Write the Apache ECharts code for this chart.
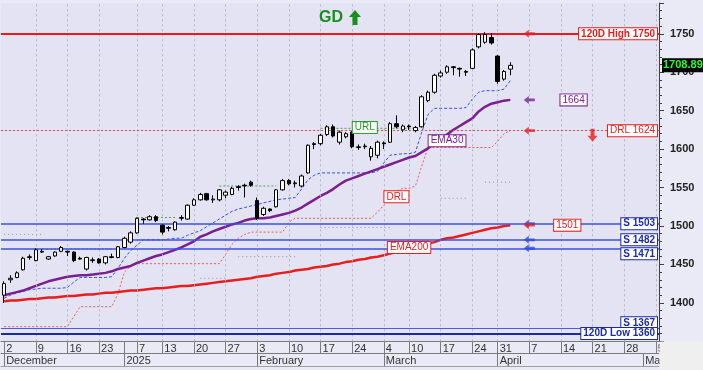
<!DOCTYPE html>
<html><head><meta charset="utf-8">
<script src="https://cdn.jsdelivr.net/npm/echarts@6/dist/echarts.min.js"></script>
<style>html,body{margin:0;padding:0;background:#EAEAF6}#c{width:703px;height:370px}</style>
</head><body><div id="c"></div>
<script>
const dates = [
'2024-12-02','2024-12-03','2024-12-04','2024-12-05','2024-12-06',
'2024-12-09','2024-12-10','2024-12-11','2024-12-12','2024-12-13',
'2024-12-16','2024-12-17','2024-12-18','2024-12-19','2024-12-20',
'2024-12-23','2024-12-24','2024-12-26','2024-12-27','2024-12-30',
'2025-01-06','2025-01-07','2025-01-08','2025-01-09','2025-01-10',
'2025-01-13','2025-01-14','2025-01-15','2025-01-16','2025-01-17',
'2025-01-20','2025-01-21','2025-01-22','2025-01-23','2025-01-24',
'2025-01-27','2025-01-28','2025-01-29','2025-01-30','2025-01-31',
'2025-02-03','2025-02-04','2025-02-05','2025-02-06','2025-02-07',
'2025-02-10','2025-02-11','2025-02-12','2025-02-13','2025-02-14',
'2025-02-17','2025-02-18','2025-02-19','2025-02-20','2025-02-21',
'2025-02-24','2025-02-25','2025-02-27','2025-02-28','2025-03-03',
'2025-03-04','2025-03-05','2025-03-06','2025-03-07',
'2025-03-10','2025-03-11','2025-03-12','2025-03-13','2025-03-14',
'2025-03-17','2025-03-18','2025-03-19','2025-03-20','2025-03-21',
'2025-03-24','2025-03-25','2025-03-26','2025-03-27',
'2025-03-31','2025-04-01','2025-04-02','2025-04-03','2025-04-04',
'2025-04-07','2025-04-08','2025-04-09','2025-04-10','2025-04-11',
'2025-04-14','2025-04-15','2025-04-16','2025-04-17','2025-04-18',
'2025-04-21','2025-04-22','2025-04-23','2025-04-24','2025-04-25',
'2025-04-28','2025-04-29','2025-04-30','2025-05-01','2025-05-02',
'2025-05-05'];

const open = [1410,1430,1433,1443,1459,1455,1466,1457,1461,1467,
1467,1466,1458,1444,1455,1457,1452,1459,1459,1472,
1479,1491,1509,1508,1512,1501,1498,1495,1510,1509,
1527,1534,1542,1534,1534,1540,1541,1551,1553,1557,
1533,1515,1522,1525,1547,1559,1555,1552,1569,1607,
1607,1619,1629,1609,1616,1622,1602,1603,1590,1592,
1608,1609,1633,1625,1630,1624,1629,1663,1674,1695,
1700,1707,1705,1701,1705,1733,1739,1745,1721,1691,
1704];
const close = [1425,1432,1439,1458,1460,1469,1467,1460,1466,1472,
1466,1455,1457,1459,1456,1452,1460,1460,1473,1484,
1491,1510,1508,1512,1507,1492,1497,1505,1511,1527,
1534,1541,1534,1535,1547,1544,1549,1550,1552,1553,
1510,1523,1520,1547,1559,1555,1556,1565,1605,1606,
1618,1629,1617,1622,1620,1603,1603,1604,1601,1609,
1607,1633,1629,1630,1629,1628,1668,1674,1696,1699,
1707,1706,1704,1700,1729,1749,1749,1738,1688,1701,
1708.89];
const high = [1428,1436,1441,1460,1463,1471,1470,1461,1467,1474,
1468,1467,1460,1460,1459,1458,1461,1464,1474,1486,
1493,1511,1510,1514,1514,1502,1500,1506,1514,1528,
1536,1543,1543,1540,1548,1546,1551,1553,1555,1559,
1537,1525,1523,1548,1561,1561,1559,1567,1606,1609,
1620,1631,1632,1624,1622,1624,1606,1607,1604,1611,
1610,1635,1644,1632,1632,1630,1670,1676,1698,1702,
1709,1708,1706,1703,1731,1751,1752,1751,1722,1703,
1713];
const low = [1400,1426,1432,1442,1456,1454,1465,1456,1460,1466,
1461,1453,1456,1442,1452,1451,1450,1458,1458,1471,
1477,1490,1503,1507,1505,1489,1493,1494,1507,1508,
1526,1533,1533,1530,1532,1536,1540,1546,1537,1551,
1508,1513,1518,1524,1546,1553,1550,1550,1568,1600,
1605,1617,1615,1606,1614,1601,1599,1600,1585,1588,
1600,1608,1627,1622,1625,1622,1628,1661,1672,1693,
1698,1696,1694,1695,1704,1731,1737,1736,1685,1689,
1696];

const ema30 = [1410,1412,1414,1416,1419,1422,1425,1428,1430,1432,
1434,1435,1436,1436,1437,1438,1439,1441,1444,1446,
1448,1452,1455,1458,1461,1463,1466,1469,1472,1476,
1480,1486,1489,1493,1496,1499,1502,1504,1507,1509,
1510,1510,1511,1513,1515,1517,1520,1524,1529,1534,
1539,1543,1548,1554,1559,1562,1565,1568,1571,1574,
1577,1580,1583,1586,1589,1591,1596,1601,1607,1613,
1619,1625,1630,1635,1640,1649,1655,1659,1661,1663,
1664];
const ema200 = [1402,1403,1403,1404,1405,1405,1406,1407,1407,1408,
1409,1409,1410,1411,1411,1412,1413,1413,1414,1415,
1416,1416,1417,1418,1419,1419,1420,1421,1422,1422,
1423,1424,1425,1426,1427,1428,1429,1430,1431,1432,
1434,1435,1436,1438,1439,1440,1442,1443,1444,1446,
1447,1448,1450,1451,1453,1454,1456,1457,1459,1460,
1462,1464,1466,1468,1470,1473,1475,1477,1479,1482,
1484,1485,1487,1489,1491,1493,1495,1497,1498,1500,
1501];
const stopLine = [1406,1410,1413,1415,1417,1418,1419,1419,1419,1419,
1420,1427,1433,1433,1433,1433,1433,1434,1445,1458,
1468,1475,1482,1482,1482,1482,1483,1484,1484,1488,
1491,1494,1499,1504,1509,1514,1519,1522,1524,1526,
1528,1530,1532,1534,1535,1536,1537,1548,1560,1566,
1569,1569,1569,1569,1569,1569,1569,1569,1569,1571,
1582,1592,1593,1594,1594,1596,1622,1645,1653,1653,
1653,1653,1653,1654,1665,1674,1676,1676,1676,1678,
1689];
const drlLine = [1369,1369,1369,1369,1369,1369,1369,1369,1369,1369,
1369,1382,1395,1395,1395,1395,1395,1395,1412,1440,
1448,1451,1451,1451,1451,1451,1451,1451,1451,1451,
1451,1451,1451,1451,1451,1463,1476,1484,1489,1492,
1492,1492,1492,1492,1492,1505,1510,1510,1510,1510,
1510,1510,1510,1510,1510,1510,1510,1510,1510,1518,
1527,1535,1545,1549,1549,1552,1578,1602,1602,1602,
1602,1602,1602,1602,1602,1602,1602,1602,1610,1620,
1624];
const urlLine = [null,null,null,null,null,null,1470,1470,1470,1470,
1470,1470,1470,1470,1470,1470,1470,1470,null,null,
null,1511,1511,1511,1511,1511,1511,1511,null,null,
null,null,null,null,1552,1552,1552,1552,1552,1552,
1552,1552,1552,1552,null,null,null,null,null,null,
1627,1627,1627,1627,1627,1627,1627,1627,1627,1627,
1627,1627,1627,1627,1627,1627,null,null,null,null,
null,null,null,null,null,1750,1750,1750,1750,1750,
1750];
const lowBand = [1489,1489,1489,1489,1489,1489,1489,null,null,null,
null,null,null,null,null,null,null,null,null,null,
null,null,null,null,null,null,null,null,null,null,
null,1432,1432,1432,1432,1432,null,1460,1460,1460,
1460,1460,1460,1460,1460,1460,1460,null,null,null,
1498,1498,1498,1498,1498,1498,1498,1498,1498,1498,
1498,1498,null,null,null,null,null,null,null,1536,
1536,1536,1536,1536,null,null,1557,1557,1557,1557,
1557];

const tickDates = ['2024-12-02','2024-12-09','2024-12-16','2024-12-23','2024-12-30','2025-01-07','2025-01-13','2025-01-20','2025-01-27','2025-02-03','2025-02-10','2025-02-17','2025-02-24','2025-03-04','2025-03-10','2025-03-17','2025-03-24','2025-03-31','2025-04-07','2025-04-14','2025-04-21','2025-04-28','2025-05-05'];
const tickLabels = ['2','9','16','23','','7','13','20','27','3','10','17','24','4','10','17','24','31','7','14','21','28','5'];
const monthDates = ['2024-12-02','2024-12-30','2025-02-03','2025-03-04','2025-03-31','2025-05-01'];
const monthLabels = ['December','2025','February','March','April','May'];

const levelNames = ['120D High','DRL','S','S','S','S','120D Low'];
const levelValues = [1750,1624,1503,1482,1471,1367,1360];

const arrowDate = '2025-04-07';
const arrowValues = [1750,1664,1624,1503,1501,1482,1471];
const arrowKinds = ['red','purple','red','blue','red','blue','blue'];

const noteTexts = ['URL','EMA30','DRL','EMA200'];
const noteDates = ['2025-02-27','2025-03-18','2025-03-06','2025-03-10'];
const noteValues = [1628,1611,1538,1472];

const dropDate = '2025-04-21';
const dropValue = 1618;

const F = 'Liberation Sans, Arial, sans-serif';
const C = {red:'#E81E1E', purple:'#7B1E8E', blue:'#2E46E0', green:'#2A9A2A', dark:'#1C2AA8'};
const idx = d => dates.indexOf(d);
const dayMap = {}; tickDates.forEach((d,i)=>{dayMap[idx(d)] = tickLabels[i];});
const monMap = {}; monthDates.forEach((d,i)=>{monMap[idx(d)] = monthLabels[i];});
const gridIdx = tickDates.filter(d => d !== '2024-12-02' && d !== '2024-12-30').map(idx);

const candles = open.map((o,i)=>[o, close[i], low[i], high[i]]);

const box = (txt, col, bold) => ({show:true, formatter:txt, color:col, fontSize:10, fontFamily:F,
  fontWeight: bold ? 'bold' : 'normal', backgroundColor:'#FFFFFF', borderColor:col, borderWidth:1,
  padding:[1,2,0,2], lineHeight:10, opacity:1});

const levelStyle = i => {
  const n = levelNames[i], v = levelValues[i];
  if (n === '120D High') return {line:{color:C.red,width:2,type:'solid'}, col:C.red, bold:true, pos:'insideEnd'};
  if (n === 'DRL') return {line:{color:'#F04848',width:1,type:[2,2]}, col:C.red, bold:false, pos:'insideEnd'};
  if (n === '120D Low') return {line:{color:C.dark,width:2,type:'solid'}, col:C.dark, bold:true, pos:'insideEnd'};
  if (v < 1400) return {line:{color:'#4A5BE8',width:1,type:'solid'}, col:C.dark, bold:true, pos:'insideEndTop'};
  if (v === 1471) return {line:{color:'#3C50E0',width:1.5,type:'solid'}, col:C.dark, bold:true, pos:'insideEndBottom'};
  return {line:{color:'#3C50E0',width:1.5,type:'solid'}, col:C.dark, bold:true, pos:'insideEnd'};
};

const levelLines = levelValues.map((v,i)=>{
  const s = levelStyle(i);
  return {yAxis:v, lineStyle:s.line,
    label:Object.assign(box(levelNames[i]+' '+v, s.col, s.bold), {position:s.pos, distance:[2,0]})};
});

const arrowPath = 'path://M0,4 L5,0 L5,2.6 L11,2.6 L11,5.4 L5,5.4 L5,8 Z';
const arrowData = arrowValues.map((v,i)=>({value:[idx(arrowDate), v],
  itemStyle:{color: C[arrowKinds[i]]}}));

const tagData = [
  {value:[idx('2025-04-16'), ema30[ema30.length-1]], label:box(String(ema30[ema30.length-1]), C.purple, false)},
  {value:[idx('2025-04-15'), ema200[ema200.length-1]], label:box(String(ema200[ema200.length-1]), C.red, false)}
];
const noteCols = [C.green, C.purple, C.red, C.red];
const noteData = noteTexts.map((t,i)=>({value:[idx(noteDates[i]), noteValues[i]],
  label:box(t, noteCols[i], false)}));

const chart = echarts.init(document.getElementById('c'), null, {renderer:'canvas'});
chart.setOption({
  animation:false,
  backgroundColor:'#EAEAF6',
  grid:{left:1, right:44, top:3, bottom:28.7, show:true, backgroundColor:'#E3E3F4', borderWidth:0},
  graphic:[
    {type:'rect', shape:{x:659.5, y:341.5, width:44, height:29}, style:{fill:'#EFEFEF'}, z:100},
    {type:'text', left:319, top:10, style:{text:'GD', fill:'#15901A', font:'bold 16px '+F}, z:100},
    {type:'polygon', shape:{points:[[355,10],[361,17],[357.5,17],[357.5,25],[352.5,25],[352.5,17],[349,17]]}, style:{fill:'#15901A'}, z:100}
  ],
  xAxis:[
    {type:'category', data:dates, boundaryGap:true,
     axisLine:{show:true, lineStyle:{color:'#7A7A7A'}},
     axisTick:{show:true, alignWithLabel:true, interval:(i)=>(i in dayMap), length:12, lineStyle:{color:'#7A7A7A'}},
     axisLabel:{interval:(i)=>(i in dayMap), formatter:(v,i)=>dayMap[i]||'', align:'left', margin:2,
       padding:[0,0,0,2], fontSize:11, color:'#333', fontFamily:F},
     splitLine:{show:false}},
    {type:'category', data:dates, boundaryGap:true, position:'bottom', offset:12,
     axisLine:{show:true, lineStyle:{color:'#7A7A7A'}},
     axisTick:{show:true, alignWithLabel:true, interval:(i)=>(i in monMap), length:13, lineStyle:{color:'#7A7A7A'}},
     axisLabel:{interval:(i)=>(i in monMap), formatter:(v,i)=>monMap[i]||'', align:'left', margin:2,
       padding:[0,0,0,2], fontSize:11, color:'#333', fontFamily:F},
     splitLine:{show:false}},
    {type:'category', data:dates, boundaryGap:true, position:'bottom', offset:25,
     axisLine:{show:true, lineStyle:{color:'#A0A0A0'}}, axisTick:{show:false}, axisLabel:{show:false}, splitLine:{show:false}}
  ],
  yAxis:{type:'value', position:'right', min:1350, max:1790, interval:50,
    axisLine:{show:true, lineStyle:{color:'#404040'}},
    axisTick:{show:true, length:5, lineStyle:{color:'#404040'}},
    minorTick:{show:true, splitNumber:5, length:3, lineStyle:{color:'#404040'}},
    axisLabel:{margin:11, formatter:v => (v >= 1400 && v <= 1750) ? String(v) : '', fontWeight:'bold', fontSize:11, color:'#222', fontFamily:F},
    splitLine:{show:false}, minorSplitLine:{show:false}},
  series:[
    {name:'lowBand', type:'line', data:lowBand, symbol:'none', connectNulls:false, z:1,
     lineStyle:{color:'#8C8C9C', width:1, type:[1,3]},
     markLine:{silent:true, symbol:['none','none'], label:{show:false},
       lineStyle:{color:'#B4B4C8', width:1, type:[2,3]},
       data:gridIdx.map(k=>({xAxis:k}))}},
    {name:'URL', type:'line', data:urlLine, symbol:'none', connectNulls:false, z:2,
     lineStyle:{color:'#5A9A5A', width:1, type:[2,2]}},
    {name:'DRL trail', type:'line', data:drlLine, symbol:'none', z:2,
     lineStyle:{color:'#F05A5A', width:1, type:[2,2]}},
    {name:'Stop', type:'line', data:stopLine, symbol:'none', z:2,
     lineStyle:{color:'#3050E8', width:1, type:[3,2]}},
    {name:'EMA200', type:'line', data:ema200, symbol:'none', z:3,
     lineStyle:{color:'#E81E1E', width:2.5},
     markLine:{silent:true, symbol:['none','none'], data:levelLines}},
    {name:'EMA30', type:'line', data:ema30, symbol:'none', z:4,
     lineStyle:{color:C.purple, width:2.5}},
    {name:'Price', type:'candlestick', data:candles, barWidth:4, z:5,
     itemStyle:{color:'#FFFFFF', color0:'#000000', borderColor:'#000000', borderColor0:'#000000', borderWidth:1},
     markLine:{silent:true, symbol:['none','none'], lineStyle:{color:'rgba(0,0,0,0)', width:0},
       data:[{yAxis:close[close.length-1],
         label:{show:true, position:'end', distance:3, formatter:close[close.length-1].toFixed(2),
           color:'#22FF22', backgroundColor:'#000000', fontWeight:'bold', fontSize:11, fontFamily:F, padding:[2,1,1,1]}}]}},
    {name:'arrows', type:'scatter', data:arrowData, symbol:arrowPath, symbolSize:[11,8], z:6, silent:true},
    {name:'drop', type:'scatter', data:[[idx(dropDate), dropValue]], symbol:'path://M3,0 L7,0 L7,7 L10,7 L5,13 L0,7 L3,7 Z',
     symbolSize:[10,13], itemStyle:{color:C.red}, z:6, silent:true},
    {name:'tags', type:'scatter', data:tagData.concat(noteData), symbolSize:1, itemStyle:{color:'rgba(0,0,0,0)'}, z:7, silent:true,
     label:{show:true, position:'inside'}}
  ]
});
</script></body></html>
